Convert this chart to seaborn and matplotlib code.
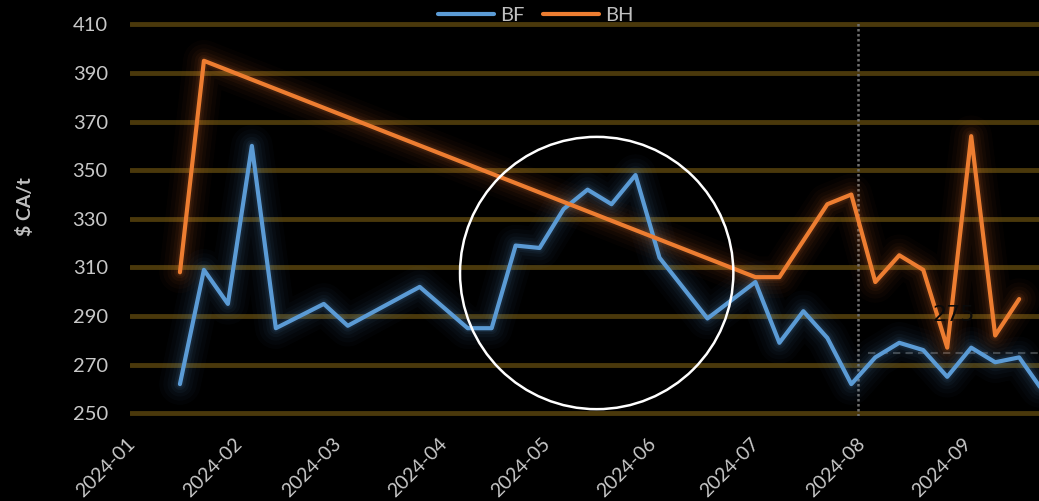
import matplotlib
matplotlib.use("Agg")
import matplotlib.pyplot as plt
import matplotlib.dates as mdates
from matplotlib.lines import Line2D
from matplotlib.patches import Ellipse
import pandas as pd
import seaborn as sns

# Weekly price observations ($ CA/t)
bf_dates = ["2024-01-13", "2024-01-20", "2024-01-27", "2024-02-03", "2024-02-10",
            "2024-02-24", "2024-03-02", "2024-03-23", "2024-04-06", "2024-04-13",
            "2024-04-20", "2024-04-27", "2024-05-04", "2024-05-11", "2024-05-18",
            "2024-05-25", "2024-06-01", "2024-06-15", "2024-06-29", "2024-07-06",
            "2024-07-13", "2024-07-20", "2024-07-27", "2024-08-03", "2024-08-10",
            "2024-08-17", "2024-08-24", "2024-08-31", "2024-09-07", "2024-09-14",
            "2024-09-21"]
bf_values = [262, 309, 295, 360, 285, 295, 286, 302, 285, 285,
             319, 318, 334, 342, 336, 348, 314, 289, 304, 279,
             292, 281, 262, 273, 279, 276, 265, 277, 271, 273,
             259]

bh_dates = ["2024-01-13", "2024-01-20", "2024-06-29", "2024-07-06", "2024-07-20",
            "2024-07-27", "2024-08-03", "2024-08-10", "2024-08-17", "2024-08-24",
            "2024-08-31", "2024-09-07", "2024-09-14"]
bh_values = [308, 395, 306, 306, 336, 340, 304, 315, 309, 277, 364, 282, 297]

series_names = ["BF", "BH"]
y_ticks = [250, 270, 290, 310, 330, 350, 370, 390, 410]
y_label = "$ CA/t"

# Reference level drawn from August onwards, and a marker date
reference_level = 275
reference_start = "2024-08-01"
marker_date = "2024-07-29"

# Highlight circle around the spring peak (centre date, centre value, size in days / $)
highlight_center = ("2024-05-13 16:00", 307.7)
highlight_size = (79.8, 112.0)

x_range = ("2023-12-29 10:00", "2024-09-19 19:00")
y_range = (249, 411)

colors = {"BF": "#5b9bd5", "BH": "#ed7d31"}
text_color = "#c8c8c8"
grid_color = "#4a380b"

sns.set_theme(style="dark", rc={
    "figure.facecolor": "black",
    "axes.facecolor": "black",
    "axes.edgecolor": "black",
    "savefig.facecolor": "black",
})
plt.rcParams["font.family"] = ["Lato", "DejaVu Sans"]

frame = pd.concat([
    pd.DataFrame({"date": pd.to_datetime(bf_dates), "value": bf_values, "series": "BF"}),
    pd.DataFrame({"date": pd.to_datetime(bh_dates), "value": bh_values, "series": "BH"}),
], ignore_index=True)

fig = plt.figure(figsize=(10.39, 5.01), dpi=100)
ax = fig.add_axes([0.1251, 0.1702, 0.8749, 0.7861])
ax.set_facecolor("black")

# soft glow under each line
glow_layers = [(30, 0.025), (24, 0.03), (18, 0.04), (13, 0.05), (8.5, 0.07), (5.5, 0.09)]
for name in series_names:
    sub = frame[frame["series"] == name]
    for width, alpha in glow_layers:
        sns.lineplot(data=sub, x="date", y="value", color=colors[name], lw=width,
                     alpha=alpha, ax=ax, legend=False, solid_capstyle="round",
                     zorder=2)

for name in series_names:
    sub = frame[frame["series"] == name]
    sns.lineplot(data=sub, x="date", y="value", color=colors[name], lw=3,
                 ax=ax, legend=False, solid_capstyle="round", zorder=3)

x_lo, x_hi = pd.to_datetime(x_range[0]), pd.to_datetime(x_range[1])
ax.set_xlim(x_lo, x_hi)
ax.set_ylim(*y_range)

# marker date and reference level
ax.axvline(pd.to_datetime(marker_date), color="#707070", lw=1.8,
           ls=(0, (1, 1)), zorder=1.5)
ref_start = pd.to_datetime(reference_start)
ax.hlines(reference_level, ref_start, x_hi, color="#3e3e3e", lw=1.5,
          linestyles=(0, (3.5, 2.5)), zorder=1.5)
ax.text(ref_start + (x_hi - ref_start) / 2, reference_level + 15.5,
        str(reference_level), ha="center", va="center", fontsize=16,
        color="#0a0a0a", family=["DejaVu Sans"], zorder=6)

# highlight circle
cx = mdates.date2num(pd.to_datetime(highlight_center[0]))
ax.add_patch(Ellipse((cx, highlight_center[1]), highlight_size[0], highlight_size[1],
                     fill=False, edgecolor="white", lw=1.8, zorder=5))

# axes styling
ax.set_yticks(y_ticks)
ax.yaxis.grid(True, color=grid_color, lw=3.5)
ax.xaxis.grid(False)
for side in ax.spines.values():
    side.set_visible(False)
ax.xaxis.set_major_locator(mdates.MonthLocator())
ax.xaxis.set_major_formatter(mdates.DateFormatter("%Y-%m"))
ax.tick_params(axis="y", length=0, pad=16, labelsize=14.5, labelcolor=text_color)
ax.tick_params(axis="x", length=0, pad=14, labelsize=14, labelcolor=text_color)
for lab in ax.get_xticklabels():
    lab.set_rotation(45)
    lab.set_ha("right")
    lab.set_rotation_mode("default")

ax.set_xlabel("")
ax.set_ylabel(y_label, fontsize=14, fontweight="bold", color="#c0c0c0")
ax.yaxis.set_label_coords(-0.106, 0.53)

handles = [Line2D([], [], color=colors[n], lw=3, solid_capstyle="round") for n in series_names]
fig.legend(handles, series_names, loc="center",
           bbox_to_anchor=(536 / 1039, 1 - 15 / 501), ncol=2, frameon=False,
           fontsize=14.5, labelcolor="#bfbfbf", handlelength=2.8,
           handletextpad=0.3, columnspacing=0.9)

fig.savefig("out.png", dpi=100, facecolor="black")
